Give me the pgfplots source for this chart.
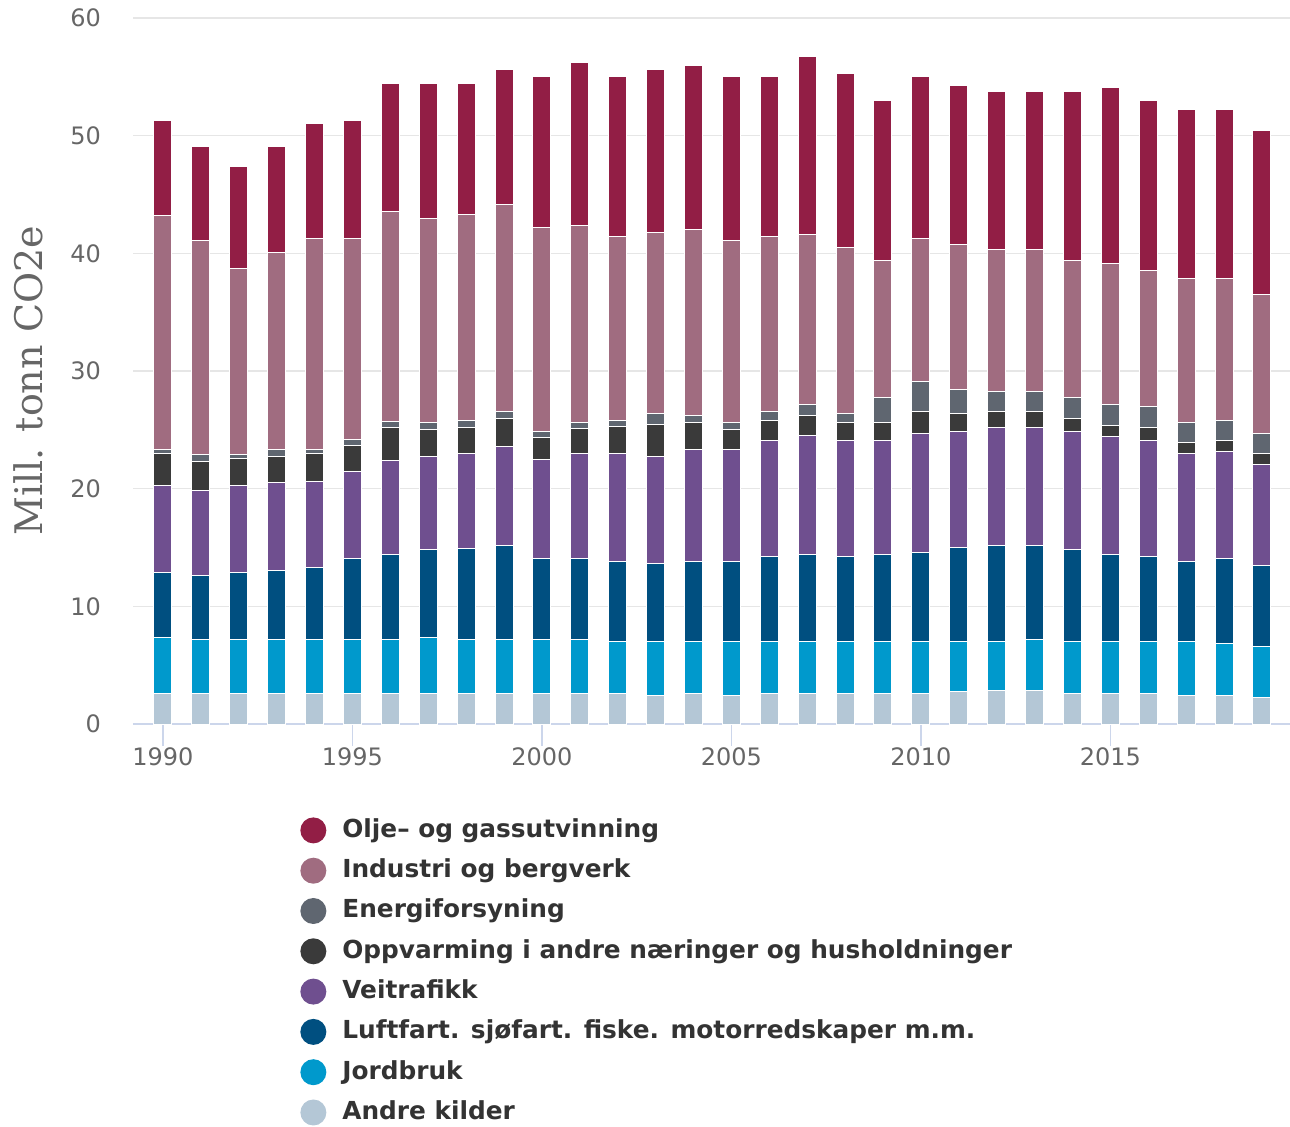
\documentclass[border=0pt]{standalone}
\usepackage{pgfplots}
\pgfplotsset{compat=1.18}
\usepackage{pgfplotstable}
\usepackage{fontspec}
\setmainfont{DejaVu Sans}
\newfontfamily\labelserif{DejaVu Serif}

\definecolor{olje}{HTML}{921E45}
\definecolor{industri}{HTML}{A06C80}
\definecolor{energi}{HTML}{5F6670}
\definecolor{oppvarming}{HTML}{3A3A3A}
\definecolor{vei}{HTML}{6F4F8F}
\definecolor{luft}{HTML}{004F80}
\definecolor{jord}{HTML}{0099CC}
\definecolor{andre}{HTML}{B4C7D6}
\definecolor{axisline}{HTML}{CCD6EB}
\definecolor{gridgray}{HTML}{E6E6E6}
\definecolor{tickgray}{HTML}{666666}
\definecolor{legendtext}{HTML}{333333}

% Mill. tonn CO2e per kilde, lest av figuren
\pgfplotstableread{
year andre jord luft vei opp energi ind olje
1990 2.61 4.76 5.52 7.39 2.67 0.39 19.86 8.05
1991 2.61 4.53 5.52 7.22 2.47 0.55 18.20 8.02
1992 2.61 4.53 5.72 7.42 2.27 0.35 15.85 8.67
1993 2.61 4.53 5.92 7.45 2.24 0.55 16.81 9.01
1994 2.61 4.53 6.12 7.39 2.30 0.35 17.95 9.80
1995 2.61 4.53 6.89 7.39 2.29 0.51 17.03 10.00
1996 2.61 4.53 7.28 7.96 2.86 0.51 17.79 10.91
1997 2.61 4.76 7.42 7.98 2.27 0.57 17.33 11.51
1998 2.61 4.53 7.80 8.01 2.29 0.59 17.51 11.11
1999 2.61 4.53 8.02 8.41 2.40 0.55 17.61 11.48
2000 2.61 4.59 6.83 8.41 1.90 0.54 17.33 12.86
2001 2.61 4.59 6.83 8.97 2.10 0.51 16.77 13.82
2002 2.61 4.39 6.85 9.15 2.27 0.51 15.69 13.60
2003 2.46 4.54 6.66 9.11 2.67 0.94 15.43 13.83
2004 2.61 4.39 6.85 9.49 2.27 0.57 15.86 13.96
2005 2.46 4.54 6.85 9.49 1.70 0.57 15.46 14.00
2006 2.61 4.39 7.22 9.91 1.70 0.71 14.93 13.60
2007 2.61 4.39 7.42 10.08 1.68 0.99 14.47 15.13
2008 2.61 4.39 7.22 9.91 1.50 0.77 14.11 14.76
2009 2.61 4.39 7.42 9.71 1.50 2.10 11.64 13.58
2010 2.61 4.39 7.60 10.10 1.84 2.55 12.18 13.80
2011 2.75 4.25 7.96 9.88 1.53 2.10 12.24 13.59
2012 2.83 4.17 8.16 10.08 1.30 1.76 12.04 13.40
2013 2.83 4.37 7.96 10.08 1.30 1.76 12.04 13.40
2014 2.61 4.39 7.79 10.05 1.16 1.73 11.64 14.37
2015 2.61 4.39 7.42 10.05 0.94 1.76 11.98 14.95
2016 2.61 4.39 7.22 9.86 1.16 1.73 11.61 14.39
2017 2.41 4.59 6.85 9.10 0.96 1.70 12.21 14.39
2018 2.41 4.39 7.23 9.11 0.94 1.72 12.02 14.39
2019 2.24 4.33 6.89 8.56 0.93 1.70 11.81 14.02
}\utslipp

\begin{document}
\begin{tikzpicture}
\path[use as bounding box] (-66.5pt,-201pt) rectangle (578.5pt,362pt);
\begin{axis}[
    scale only axis,
    width=578.5pt,
    height=353pt,
    ybar stacked,
    bar width=0.475,
    legend image code/.code={
        \fill[#1,draw=none] (6.5pt,0pt) circle[radius=6.5pt];
        \path[draw=none,fill=none] (0pt,0pt) -- (21pt,0pt);
    },
    xmin=1989.21, xmax=2019.74,
    ymin=0, ymax=60,
    xtick={1990,1995,...,2015},
    ytick={0,10,...,60},
    axis x line*=bottom,
    axis y line*=left,
    x axis line style={draw=axisline, line width=1pt, -},
    y axis line style={draw=none},
    tick align=outside,
    major tick length=11pt,
    xtick style={draw=axisline, line width=0.75pt},
    ytick style={draw=none},
    ymajorgrids,
    major grid style={draw=gridgray, line width=0.75pt},
    /pgf/number format/assume math mode=true,
    ticklabel style={font=\fontsize{12}{14}\selectfont, text=tickgray},
    xticklabel style={/pgf/number format/1000 sep={}, yshift=2.5pt},
    yticklabel style={xshift=-1.5pt},
    ylabel={Mill. tonn CO2e},
    ylabel style={font=\labelserif\fontsize{19}{22}\selectfont, text=tickgray,
        at={(axis description cs:-0.0908,0.486)}, anchor=center},
    legend cell align=left,
    reverse legend,
    legend style={at={(axis description cs:0.1443,-0.1317)}, anchor=north west,
        draw=none, fill=none, inner sep=0pt, row sep=7.15pt,
        font=\bfseries\fontsize{12.4}{15}\selectfont, text=legendtext,
        nodes={inner sep=0pt, text height=10pt, text depth=3pt}},
]
\addplot[fill=andre, draw=white, line width=0.5pt] table[x=year, y=andre] {\utslipp};
\addlegendentry{Andre kilder}
\addplot[fill=jord, draw=white, line width=0.5pt] table[x=year, y=jord] {\utslipp};
\addlegendentry{Jordbruk}
\addplot[fill=luft, draw=white, line width=0.5pt] table[x=year, y=luft] {\utslipp};
\addlegendentry{Luftfart. sjøfart. fiske. motorredskaper m.m.}
\addplot[fill=vei, draw=white, line width=0.5pt] table[x=year, y=vei] {\utslipp};
\addlegendentry{Veitrafikk}
\addplot[fill=oppvarming, draw=white, line width=0.5pt] table[x=year, y=opp] {\utslipp};
\addlegendentry{Oppvarming i andre næringer og husholdninger}
\addplot[fill=energi, draw=white, line width=0.5pt] table[x=year, y=energi] {\utslipp};
\addlegendentry{Energiforsyning}
\addplot[fill=industri, draw=white, line width=0.5pt] table[x=year, y=ind] {\utslipp};
\addlegendentry{Industri og bergverk}
\addplot[fill=olje, draw=white, line width=0.5pt] table[x=year, y=olje] {\utslipp};
\addlegendentry{Olje– og gassutvinning}
\end{axis}
\end{tikzpicture}
\end{document}
